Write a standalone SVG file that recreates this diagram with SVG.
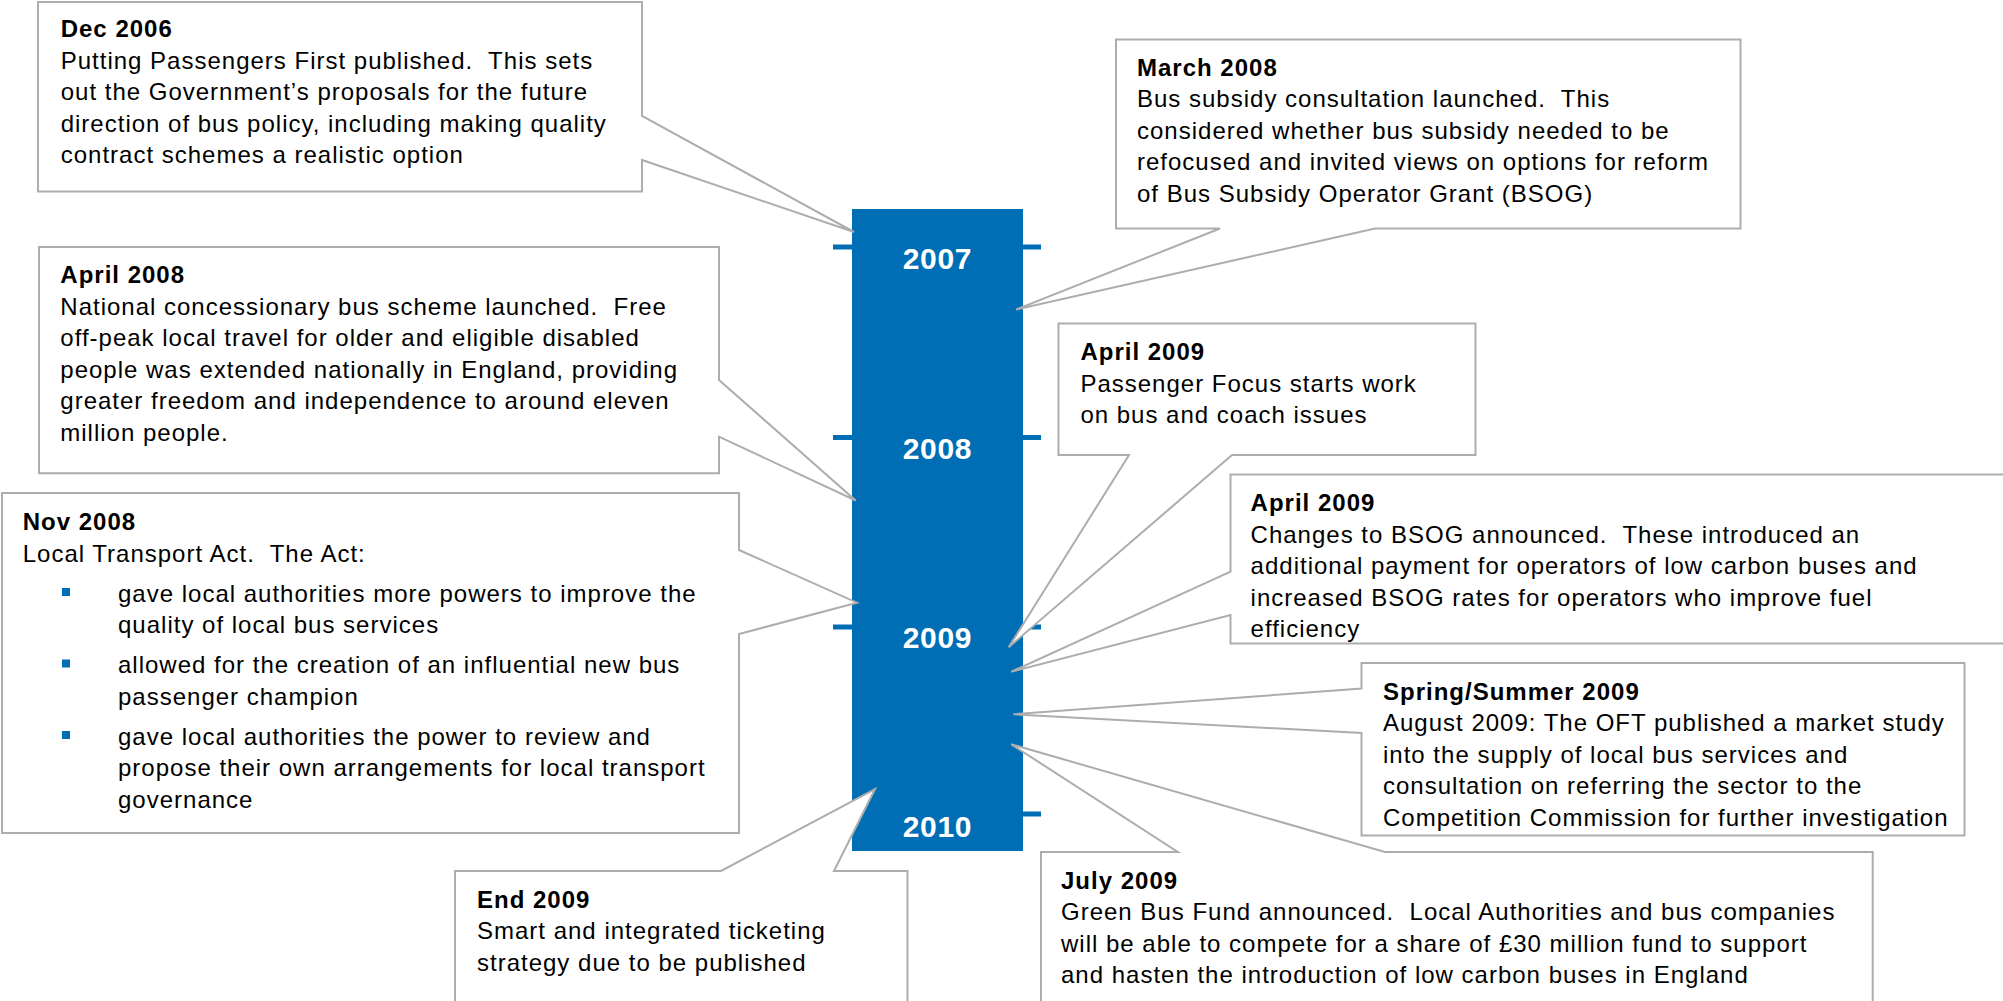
<svg xmlns="http://www.w3.org/2000/svg" width="2003" height="1001" viewBox="0 0 2003 1001">
<style>
  .bg { fill: #ffffff; }
  .bar { fill: #006EB4; }
  .year { font-family: "Liberation Sans", Arial, sans-serif; font-weight: bold; font-size: 30px; fill: #ffffff; text-anchor: middle; letter-spacing: 0.7px; }
  .callout { fill: #ffffff; stroke: #ADADAD; stroke-width: 2; stroke-linejoin: miter; }
  .txt { font-family: "Liberation Sans", Arial, sans-serif; font-size: 24px; fill: #000000; letter-spacing: 1px; white-space: pre; }
  .ttl { font-weight: bold; }
  .bullet { fill: #006EB4; }
</style>
<rect class="bg" x="0" y="0" width="2003" height="1001"/>

<g id="timeline">
  <rect class="bar" x="852" y="209" width="171" height="642"/>
  <rect class="bar" x="833" y="244.5" width="19" height="5"/>
  <rect class="bar" x="833" y="435" width="19" height="5"/>
  <rect class="bar" x="833" y="624.5" width="19" height="5"/>
  <rect class="bar" x="1023" y="244.5" width="18" height="5"/>
  <rect class="bar" x="1023" y="435" width="18" height="5"/>
  <rect class="bar" x="1023" y="624.5" width="18" height="5"/>
  <rect class="bar" x="1023" y="811.5" width="18" height="5"/>
  <text class="year" x="937.5" y="269">2007</text>
  <text class="year" x="937.5" y="458.5">2008</text>
  <text class="year" x="937.5" y="648.3">2009</text>
  <text class="year" x="937.5" y="836.5">2010</text>
</g>

<g id="dec2006">
  <path class="callout" d="M38,2 H642 V116 L854,232 L642,160 V191.5 H38 Z"/>
  <text class="txt">
    <tspan class="ttl" x="60.7" y="37">Dec 2006</tspan>
    <tspan x="60.7" y="68.5">Putting Passengers First published.  This sets</tspan>
    <tspan x="60.7" y="100">out the Government’s proposals for the future</tspan>
    <tspan x="60.7" y="131.5">direction of bus policy, including making quality</tspan>
    <tspan x="60.7" y="163">contract schemes a realistic option</tspan>
  </text>
</g>

<g id="apr2008">
  <path class="callout" d="M39,247 H719 V380 L855.7,500.5 L719,436.7 V473.3 H39 Z"/>
  <text class="txt">
    <tspan class="ttl" x="60.3" y="283.3">April 2008</tspan>
    <tspan x="60.3" y="314.8">National concessionary bus scheme launched.  Free</tspan>
    <tspan x="60.3" y="346.3">off-peak local travel for older and eligible disabled</tspan>
    <tspan x="60.3" y="377.8">people was extended nationally in England, providing</tspan>
    <tspan x="60.3" y="409.3">greater freedom and independence to around eleven</tspan>
    <tspan x="60.3" y="440.8">million people.</tspan>
  </text>
</g>

<g id="nov2008">
  <path class="callout" d="M2,493 H739 V550 L857,602.7 L739,634 V833 H2 Z"/>
  <text class="txt">
    <tspan class="ttl" x="22.7" y="530">Nov 2008</tspan>
    <tspan x="22.7" y="561.7">Local Transport Act.  The Act:</tspan>
    <tspan x="118" y="601.7">gave local authorities more powers to improve the</tspan>
    <tspan x="118" y="633.2">quality of local bus services</tspan>
    <tspan x="118" y="673.2">allowed for the creation of an influential new bus</tspan>
    <tspan x="118" y="704.7">passenger champion</tspan>
    <tspan x="118" y="744.7">gave local authorities the power to review and</tspan>
    <tspan x="118" y="776.2">propose their own arrangements for local transport</tspan>
    <tspan x="118" y="807.7">governance</tspan>
  </text>
  <rect class="bullet" x="62" y="588" width="8" height="8"/>
  <rect class="bullet" x="62" y="659.5" width="8" height="8"/>
  <rect class="bullet" x="62" y="731" width="8" height="8"/>
</g>

<g id="mar2008">
  <path class="callout" d="M1116,39.5 H1740.5 V228.5 H1375 L1016,309.5 L1220,228.5 H1116 Z"/>
  <text class="txt">
    <tspan class="ttl" x="1137" y="75.5">March 2008</tspan>
    <tspan x="1137" y="107">Bus subsidy consultation launched.  This</tspan>
    <tspan x="1137" y="138.5">considered whether bus subsidy needed to be</tspan>
    <tspan x="1137" y="170">refocused and invited views on options for reform</tspan>
    <tspan x="1137" y="201.5">of Bus Subsidy Operator Grant (BSOG)</tspan>
  </text>
</g>

<g id="apr2009-pf">
  <path class="callout" d="M1058.5,323.5 H1475.5 V455 H1232 L1008.7,647.3 L1129,455 H1058.5 Z"/>
  <text class="txt">
    <tspan class="ttl" x="1080.4" y="360">April 2009</tspan>
    <tspan x="1080.4" y="391.5">Passenger Focus starts work</tspan>
    <tspan x="1080.4" y="423">on bus and coach issues</tspan>
  </text>
</g>

<g id="apr2009-bsog">
  <path class="callout" d="M1230.5,474.5 H2010 V643.5 H1230.5 V615 L1011.3,671.7 L1230.5,571.7 Z"/>
  <text class="txt">
    <tspan class="ttl" x="1250.6" y="511">April 2009</tspan>
    <tspan x="1250.6" y="542.5">Changes to BSOG announced.  These introduced an</tspan>
    <tspan x="1250.6" y="574">additional payment for operators of low carbon buses and</tspan>
    <tspan x="1250.6" y="605.5">increased BSOG rates for operators who improve fuel</tspan>
    <tspan x="1250.6" y="637">efficiency</tspan>
  </text>
</g>

<g id="spring2009">
  <path class="callout" d="M1361.5,663 H1964.5 V835.5 H1361.5 V733 L1013.3,714.3 L1361.5,688.5 Z"/>
  <text class="txt">
    <tspan class="ttl" x="1383" y="699.5">Spring/Summer 2009</tspan>
    <tspan x="1383" y="731">August 2009: The OFT published a market study</tspan>
    <tspan x="1383" y="762.5">into the supply of local bus services and</tspan>
    <tspan x="1383" y="794">consultation on referring the sector to the</tspan>
    <tspan x="1383" y="825.5">Competition Commission for further investigation</tspan>
  </text>
</g>

<g id="jul2009">
  <path class="callout" d="M1041,852 H1177.8 L1011.3,744.3 L1385,852 H1872.7 V1010 H1041 Z"/>
  <text class="txt">
    <tspan class="ttl" x="1061" y="888.5">July 2009</tspan>
    <tspan x="1061" y="920">Green Bus Fund announced.  Local Authorities and bus companies</tspan>
    <tspan x="1061" y="951.5">will be able to compete for a share of £30 million fund to support</tspan>
    <tspan x="1061" y="983">and hasten the introduction of low carbon buses in England</tspan>
  </text>
</g>

<g id="end2009">
  <path class="callout" d="M455,871 H721 L875,789 L834,871 H907.5 V1010 H455 Z"/>
  <text class="txt">
    <tspan class="ttl" x="477" y="907.5">End 2009</tspan>
    <tspan x="477" y="939">Smart and integrated ticketing</tspan>
    <tspan x="477" y="970.5">strategy due to be published</tspan>
  </text>
</g>
</svg>
